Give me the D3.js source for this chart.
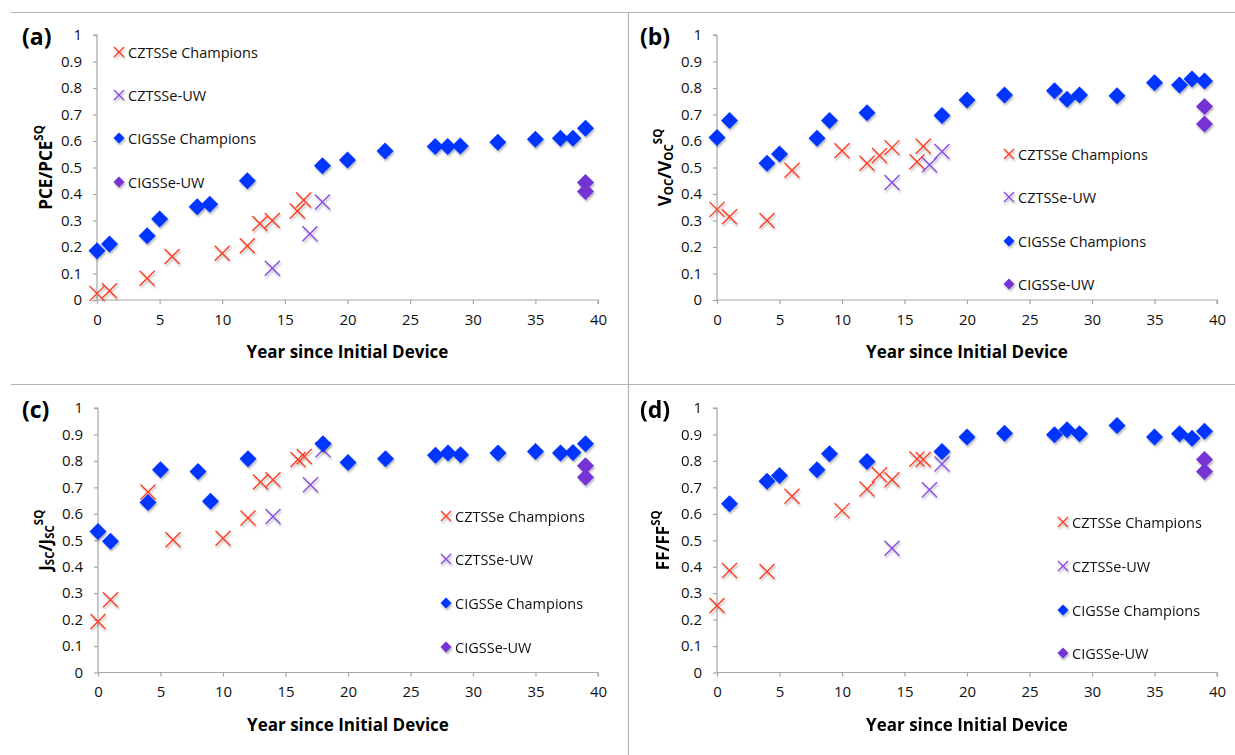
<!DOCTYPE html>
<html>
<head>
<meta charset="utf-8">
<script src="https://cdn.jsdelivr.net/npm/d3@7/dist/d3.min.js"></script>
<style>
  html, body { margin: 0; padding: 0; background: #fff; }
  svg { display: block; font-family: "Open Sans", "Liberation Sans", sans-serif; }
</style>
</head>
<body>
<svg id="chart" width="1235" height="755"></svg>
<script>
// ---------------- DATA ----------------
const seriesNames = ["CZTSSe Champions", "CZTSSe-UW", "CIGSSe Champions", "CIGSSe-UW"];
const xTickValues = [0, 5, 10, 15, 20, 25, 30, 35, 40];
const yTickValues = [0, 0.1, 0.2, 0.3, 0.4, 0.5, 0.6, 0.7, 0.8, 0.9, 1];
const yTickLabels = ["0", "0.1", "0.2", "0.3", "0.4", "0.5", "0.6", "0.7", "0.8", "0.9", "1"];
const xTitle = "Year since Initial Device";

const cztsChampYears = [0, 1, 4, 6, 10, 12, 13, 14, 16, 16.5];
const cztsUWYears = [14, 17, 18];
const cigsChampYears = [0, 1, 4, 5, 8, 9, 12, 18, 20, 23, 27, 28, 29, 32, 35, 37, 38, 39];
const cigsUWYears = [39, 39];

// (a) PCE / PCE_SQ
const pceCztsChamp = [0.025, 0.035, 0.082, 0.164, 0.176, 0.205, 0.289, 0.30, 0.336, 0.377];
const pceCztsUW = [0.12, 0.25, 0.37];
const pceCigsChamp = [0.186, 0.211, 0.242, 0.306, 0.352, 0.361, 0.450, 0.507, 0.528, 0.562, 0.579, 0.579, 0.581, 0.595, 0.607, 0.61, 0.61, 0.648];
const pceCigsUW = [0.443, 0.409];

// (b) Voc / Voc_SQ
const vocCztsChamp = [0.342, 0.314, 0.30, 0.49, 0.563, 0.516, 0.545, 0.575, 0.522, 0.58];
const vocCztsUW = [0.443, 0.51, 0.56];
const vocCigsChamp = [0.613, 0.677, 0.516, 0.551, 0.61, 0.677, 0.707, 0.696, 0.755, 0.774, 0.79, 0.758, 0.774, 0.771, 0.82, 0.811, 0.834, 0.826];
const vocCigsUW = [0.73, 0.664];

// (c) Jsc / Jsc_SQ
const jscCztsChamp = [0.193, 0.275, 0.682, 0.502, 0.508, 0.584, 0.72, 0.729, 0.805, 0.817];
const jscCztsUW = [0.59, 0.71, 0.842];
const jscCigsChamp = [0.533, 0.496, 0.643, 0.767, 0.76, 0.647, 0.808, 0.865, 0.794, 0.808, 0.821, 0.83, 0.823, 0.83, 0.836, 0.83, 0.832, 0.865];
const jscCigsUW = [0.782, 0.738];

// (d) FF / FF_SQ
const ffCztsChamp = [0.253, 0.386, 0.382, 0.666, 0.612, 0.694, 0.748, 0.729, 0.807, 0.805];
const ffCztsUW = [0.47, 0.691, 0.788];
const ffCigsChamp = [null, 0.638, 0.723, 0.745, 0.767, 0.827, 0.798, 0.836, 0.89, 0.905, 0.899, 0.918, 0.903, 0.934, 0.89, 0.903, 0.886, 0.912];
const ffCigsUW = [0.805, 0.76];

// ---------------- STYLE / LAYOUT ----------------
const colors = ["#ff3b22", "#8a4ae6", "#0535ff", "#7430d4"];
const shapes = ["x", "x", "diamond", "diamond"];

const panels = [
  { label: "(a)", title: [["PCE/PCE", 0], ["SQ", 1]],
    values: [pceCztsChamp, pceCztsUW, pceCigsChamp, pceCigsUW],
    x0: 97, x1: 598, yTop: 35, yBot: 300, labelX: 22, titleX: 47, xTitleY: 358,
    legX: 119, legY: [52, 95, 138, 182] },
  { label: "(b)", title: [["V", 0], ["OC", -1], ["/V", 0], ["OC", -1], ["SQ", 1]],
    values: [vocCztsChamp, vocCztsUW, vocCigsChamp, vocCigsUW],
    x0: 717, x1: 1217, yTop: 35, yBot: 300, labelX: 640, titleX: 666, xTitleY: 358,
    legX: 1009, legY: [154, 197, 241, 284] },
  { label: "(c)", title: [["J", 0], ["SC", -1], ["/J", 0], ["SC", -1], ["SQ", 1]],
    values: [jscCztsChamp, jscCztsUW, jscCigsChamp, jscCigsUW],
    x0: 98, x1: 598, yTop: 408, yBot: 672.5, labelX: 22, titleX: 47, xTitleY: 731,
    legX: 446, legY: [516, 559, 603, 647] },
  { label: "(d)", title: [["FF/FF", 0], ["SQ", 1]],
    values: [ffCztsChamp, ffCztsUW, ffCigsChamp, ffCigsUW],
    x0: 717, x1: 1217, yTop: 408, yBot: 672.5, labelX: 640, titleX: 664, xTitleY: 731,
    legX: 1063, legY: [522, 566, 610, 653] }
];
const yearsBySeries = [cztsChampYears, cztsUWYears, cigsChampYears, cigsUWYears];

const svg = d3.select("#chart");

// shadow filter
const defs = svg.append("defs");
const f = defs.append("filter").attr("id", "shadow").attr("x", "-50%").attr("y", "-50%").attr("width", "200%").attr("height", "200%");
f.append("feDropShadow").attr("dx", 1).attr("dy", 2).attr("stdDeviation", 1.2)
  .attr("flood-color", "#000").attr("flood-opacity", 0.3);

// frame lines
const frame = svg.append("g").attr("stroke", "#b4b4b4").attr("stroke-width", 1.2);
frame.append("line").attr("x1", 11).attr("x2", 1235).attr("y1", 12.5).attr("y2", 12.5);
frame.append("line").attr("x1", 11).attr("x2", 1235).attr("y1", 384.5).attr("y2", 384.5);
frame.append("line").attr("x1", 628.5).attr("x2", 628.5).attr("y1", 12).attr("y2", 755);

function drawMarker(g, shape, color, size) {
  if (shape === "x") {
    g.append("path")
      .attr("d", `M${-size},${-size}L${size},${size}M${-size},${size}L${size},${-size}`)
      .attr("stroke", color).attr("stroke-width", 1.4).attr("fill", "none");
  } else {
    g.append("path")
      .attr("d", `M0,${-size}L${size},0L0,${size}L${-size},0Z`)
      .attr("fill", color);
  }
}

panels.forEach(p => {
  const g = svg.append("g");
  const x = d3.scaleLinear().domain([0, 40]).range([p.x0, p.x1]);
  const y = d3.scaleLinear().domain([0, 1]).range([p.yBot, p.yTop]);

  // axes
  const yAxis = d3.axisLeft(y).tickValues(yTickValues)
    .tickFormat((d, i) => yTickLabels[i]).tickSize(4).tickPadding(11);
  const xAxis = d3.axisBottom(x).tickValues(xTickValues).tickSize(4).tickPadding(10);

  const ya = g.append("g").attr("transform", `translate(${p.x0},0)`).call(yAxis);
  const xa = g.append("g").attr("transform", `translate(0,${p.yBot})`).call(xAxis);
  [ya, xa].forEach(a => {
    a.select(".domain").attr("stroke", "#a6a6a6").attr("stroke-width", 1.2);
    a.selectAll(".tick line").attr("stroke", "#a6a6a6").attr("stroke-width", 1.2);
    a.selectAll(".tick text").attr("font-size", 15).attr("fill", "#111")
      .attr("font-family", "\"Open Sans\", sans-serif");
  });
  ya.select(".domain").attr("d", `M-4,${p.yTop}H0V${p.yBot}`);
  xa.select(".domain").attr("d", `M${p.x0},0H${p.x1}V4`);

  // panel label
  g.append("text").attr("x", p.labelX).attr("y", p.yTop + 10)
    .attr("font-size", 23).attr("font-weight", "bold").attr("fill", "#000")
    .text(p.label);

  // x title
  g.append("text").attr("x", (p.x0 + p.x1) / 2).attr("y", p.xTitleY)
    .attr("text-anchor", "middle").attr("font-size", 17).attr("font-weight", "bold")
    .attr("fill", "#000").text(xTitle);

  // y title
  const yt = g.append("text")
    .attr("transform", `translate(${p.titleX},${(p.yTop + p.yBot) / 2}) rotate(-90)`)
    .attr("text-anchor", "middle").attr("dominant-baseline", "middle")
    .attr("font-size", 17).attr("font-weight", "bold").attr("fill", "#000");
  let cur = 0;
  p.title.forEach(([t, lvl]) => {
    const target = lvl === 1 ? -7 : (lvl === -1 ? 4 : 0);
    yt.append("tspan").attr("dy", target - cur)
      .attr("font-size", lvl === 0 ? 17 : 11.5).text(t);
    cur = target;
  });

  // points
  p.values.forEach((vals, si) => {
    const pts = yearsBySeries[si].map((yr, i) => ({ yr, v: vals[i] })).filter(d => d.v != null);
    const sg = g.append("g").attr("filter", "url(#shadow)");
    pts.forEach(d => {
      const mg = sg.append("g").attr("transform", `translate(${x(d.yr)},${y(d.v)})`);
      drawMarker(mg, shapes[si], colors[si], shapes[si] === "x" ? 7.5 : 8.5);
    });
  });

  // legend
  seriesNames.forEach((name, si) => {
    const lg = g.append("g").attr("transform", `translate(${p.legX},${p.legY[si]})`);
    const mg = lg.append("g").attr("filter", "url(#shadow)");
    drawMarker(mg, shapes[si], colors[si], shapes[si] === "x" ? 5 : 5.5);
    lg.append("text").attr("x", 9).attr("y", 0).attr("dominant-baseline", "central")
      .attr("font-size", 14.5).attr("fill", "#111").text(name);
  });
});
</script>
</body>
</html>
